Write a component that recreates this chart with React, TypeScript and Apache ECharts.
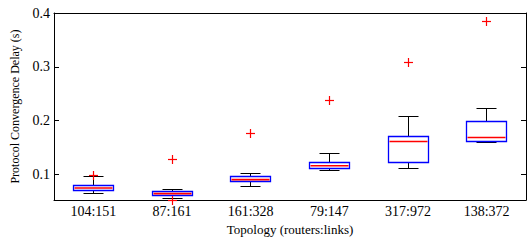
import React, { useEffect, useRef } from "react";
import * as echarts from "echarts";

const categories = ["104:151", "87:161", "161:328", "79:147", "317:972", "138:372"];
const whiskerLow = [0.064, 0.055, 0.0765, 0.107, 0.1105, 0.159];
const quartile1 = [0.069, 0.0605, 0.0865, 0.1105, 0.122, 0.161];
const medians = [0.0746, 0.064, 0.09, 0.116, 0.161, 0.1685];
const quartile3 = [0.08, 0.068, 0.095, 0.1217, 0.171, 0.1976];
const whiskerHigh = [0.095, 0.071, 0.102, 0.139, 0.207, 0.222];
const outlierCategory = [0, 1, 1, 2, 3, 4, 5];
const outlierValue = [0.097, 0.127, 0.051, 0.176, 0.2376, 0.3087, 0.3846];
const yTicks = [0.1, 0.2, 0.3, 0.4];

const FONT = "'Liberation Serif', 'Times New Roman', 'DejaVu Serif', serif";

const crisp = (v: number) => Math.round(v - 0.5) + 0.5;

export default function App() {
  const ref = useRef<HTMLDivElement>(null);
  useEffect(() => {
    if (!ref.current) return;
    const chart = echarts.init(ref.current, undefined, { renderer: "svg" });
    const boxData = categories.map((_, i) => [
      i,
      whiskerLow[i],
      quartile1[i],
      medians[i],
      quartile3[i],
      whiskerHigh[i],
    ]);
    const outlierData = outlierCategory.map((c, i) => [c, outlierValue[i]]);
    const yMin = 0.052;
    const yMax = 0.4;
    chart.setOption({
      animation: false,
      textStyle: { fontFamily: FONT },
      grid: { left: 54, right: 1, top: 13, bottom: 40 },
      xAxis: [
        {
          type: "category",
          data: categories,
          position: "bottom",
          name: "Topology (routers:links)",
          nameLocation: "middle",
          nameGap: 21,
          nameTextStyle: { fontFamily: FONT, fontSize: 13, color: "#000" },
          axisLine: { lineStyle: { color: "#000", width: 1 } },
          axisTick: { inside: true, length: 5, alignWithLabel: true, lineStyle: { color: "#000" } },
          axisLabel: { fontFamily: FONT, fontSize: 14, color: "#000", margin: 4 },
          splitLine: { show: false },
        },
        {
          type: "category",
          data: categories,
          position: "top",
          axisLine: { lineStyle: { color: "#000", width: 1 } },
          axisTick: { inside: true, length: 5, alignWithLabel: true, lineStyle: { color: "#000" } },
          axisLabel: { show: false },
          splitLine: { show: false },
        },
      ],
      yAxis: [
        {
          type: "value",
          min: yMin,
          max: yMax,
          position: "left",
          name: "Protocol Convergence Delay (s)",
          nameLocation: "middle",
          nameGap: 33,
          nameTextStyle: { fontFamily: FONT, fontSize: 12, color: "#000" },
          axisLine: { show: true, lineStyle: { color: "#000", width: 1 } },
          axisTick: { show: true, inside: true, length: 5, customValues: yTicks, lineStyle: { color: "#000" } },
          axisLabel: {
            fontFamily: FONT,
            fontSize: 14,
            color: "#000",
            margin: 4,
            customValues: yTicks,
            formatter: (v: number) => v.toFixed(1),
          },
          splitLine: { show: false },
        },
        {
          type: "value",
          min: yMin,
          max: yMax,
          position: "right",
          axisLine: { show: true, lineStyle: { color: "#000", width: 1 } },
          axisTick: { show: true, inside: true, length: 5, customValues: yTicks, lineStyle: { color: "#000" } },
          axisLabel: { show: false },
          splitLine: { show: false },
        },
      ],
      series: [
        {
          type: "custom",
          xAxisIndex: 0,
          yAxisIndex: 0,
          z: 2,
          data: boxData,
          encode: { x: 0, y: [1, 2, 3, 4, 5] },
          renderItem: (params: any, api: any) => {
            const i = api.value(0);
            const lo = crisp(api.coord([i, api.value(1)])[1]);
            const q1 = crisp(api.coord([i, api.value(2)])[1]);
            const md = api.coord([i, api.value(3)])[1];
            const q3 = crisp(api.coord([i, api.value(4)])[1]);
            const hi = crisp(api.coord([i, api.value(5)])[1]);
            const band = api.size([1, 0])[0];
            const bw = Math.round(band * 0.51);
            const cw = Math.round(bw / 2);
            const cx = crisp(api.coord([i, 0])[0]);
            const left = cx - bw / 2;
            const right = cx + bw / 2;
            const black = { stroke: "#000", lineWidth: 1, fill: "none" };
            return {
              type: "group",
              children: [
                { type: "line", z2: 1, shape: { x1: cx, y1: hi, x2: cx, y2: q3 }, style: black },
                { type: "line", z2: 1, shape: { x1: cx, y1: q1, x2: cx, y2: lo }, style: black },
                { type: "line", z2: 1, shape: { x1: cx - cw / 2, y1: hi, x2: cx + cw / 2, y2: hi }, style: black },
                { type: "line", z2: 1, shape: { x1: cx - cw / 2, y1: lo, x2: cx + cw / 2, y2: lo }, style: black },
                {
                  type: "rect",
                  z2: 2,
                  shape: { x: left, y: q3, width: bw, height: q1 - q3 },
                  style: { stroke: "#0000ff", lineWidth: 1.3, fill: "#ffffff" },
                },
                {
                  type: "line",
                  z2: 3,
                  shape: { x1: left + 1, y1: md, x2: right - 1, y2: md },
                  style: { stroke: "#ff0000", lineWidth: 1.6, fill: "none" },
                },
              ],
            };
          },
        },
        {
          type: "custom",
          xAxisIndex: 0,
          yAxisIndex: 0,
          z: 5,
          data: outlierData,
          encode: { x: 0, y: 1 },
          renderItem: (params: any, api: any) => {
            const p = api.coord([api.value(0), api.value(1)]);
            const x = crisp(p[0]);
            const y = crisp(p[1]);
            const s = 4.5;
            const red = { stroke: "#ff0000", lineWidth: 1.2, fill: "none" };
            return {
              type: "group",
              children: [
                { type: "line", shape: { x1: x - s, y1: y, x2: x + s, y2: y }, style: red },
                { type: "line", shape: { x1: x, y1: y - s, x2: x, y2: y + s }, style: red },
              ],
            };
          },
        },
      ],
    });
    return () => chart.dispose();
  }, []);
  return <div ref={ref} style={{ width: 527, height: 241, position: "absolute", left: 0, top: 0, background: "#fff" }} />;
}
